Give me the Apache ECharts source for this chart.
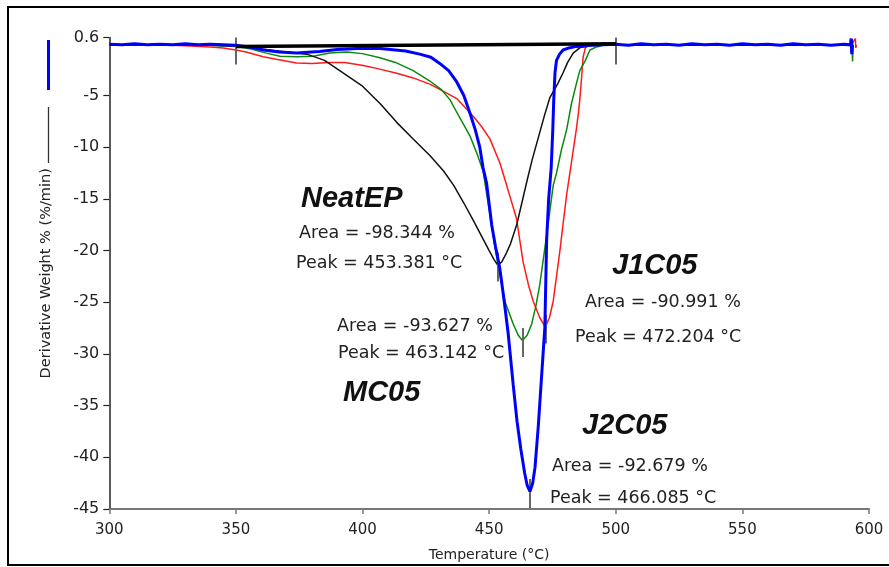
<!DOCTYPE html>
<html>
<head>
<meta charset="utf-8">
<title>DTG curves</title>
<script src="https://cdn.jsdelivr.net/npm/echarts@6.0.0/dist/echarts.min.js"></script>
<style>
  html, body { margin: 0; padding: 0; background: #fff; }
  #chart { width: 889px; height: 567px; }
</style>
</head>
<body>
<div id="chart"></div>
<script>
// Derivative weight (%/min) against temperature (°C) for four epoxy samples.
const sampleNames = ['NeatEP', 'MC05', 'J1C05', 'J2C05'];
const areaPct = [-98.344, -93.627, -90.991, -92.679];
const peakTemp = [453.381, 463.142, 472.204, 466.085];
const peakDepth = [-21.4, -28.7, -27.4, -43.3];
const limitTemps = [350, 500];

const xTickValues = [300, 350, 400, 450, 500, 550, 600];
const yTickValues = [-45, -40, -35, -30, -25, -20, -15, -10, -5, 0.6];

// [temperature, derivative weight]
const neatEP = [
  [300,-0.1],[305,-0.15],[310,-0.1],[315,-0.15],[320,-0.1],[325,-0.15],[330,-0.1],[335,-0.15],
  [340,-0.15],[345,-0.2],[350,-0.2],[355,-0.35],[360,-0.5],[365,-0.65],[370,-0.8],[378,-1.0],
  [385,-1.6],[391,-2.6],[400,-4.1],[407,-5.8],[413.5,-7.6],[420,-9.2],[426.6,-10.8],[432,-12.3],
  [436,-13.7],[440,-15.4],[444,-17.2],[447,-18.6],[450,-20.0],[452,-20.9],[453.381,-21.4],
  [455,-21.1],[456.5,-20.4],[458.5,-19.3],[461,-17.4],[463,-15.3],[465,-13.2],[467,-11.2],
  [469.5,-9.0],[472,-6.8],[474,-5.2],[477,-3.9],[479.2,-2.8],[481,-1.8],[483.2,-0.9],[486,-0.35],
  [490,-0.2],[495,-0.15],[500,-0.1],[510,-0.15],[520,-0.1],[530,-0.15],[540,-0.1],[550,-0.15],
  [560,-0.1],[570,-0.15],[580,-0.1],[590,-0.15],[592.5,-0.1],[592.7,0.5],[593.0,-0.8],[593.3,0.4],[593.6,-0.1]
];
const mc05 = [
  [300,-0.15],[310,-0.1],[320,-0.15],[330,-0.1],[340,-0.15],[350,-0.25],[356,-0.5],[362,-0.9],
  [367.4,-1.2],[374,-1.25],[380.5,-1.2],[387,-0.9],[393.7,-0.8],[400,-0.95],[406.9,-1.35],
  [413,-1.8],[420,-2.6],[426.6,-3.6],[431,-4.4],[434.5,-5.4],[438.5,-7.2],[442.4,-8.9],
  [445,-10.5],[447.6,-12.3],[450.3,-16.5],[452,-19.2],[453.6,-21.5],[456.2,-24.9],[459.5,-27.1],
  [461.5,-28.2],[463.142,-28.7],[465,-28.2],[466.8,-27.1],[468.5,-25.3],[470,-23.3],[472.7,-18.5],
  [475.3,-13.7],[476.6,-12.5],[478.5,-10.3],[480.6,-8.3],[482.5,-5.8],[484.5,-3.8],[485.8,-2.6],
  [488,-1.6],[489.8,-0.6],[492.4,-0.3],[495,-0.15],[500,-0.1],[510,-0.15],[520,-0.1],[530,-0.15],
  [540,-0.1],[550,-0.15],[560,-0.1],[570,-0.15],[580,-0.1],[590,-0.15],[593.3,-0.2],[593.5,-1.7],[593.7,-0.2]
];
const j1c05 = [
  [300,-0.1],[310,-0.15],[320,-0.1],[330,-0.2],[340,-0.3],[345,-0.4],[350,-0.6],[354,-0.8],
  [360.8,-1.25],[366,-1.5],[374,-1.85],[380,-1.9],[387,-1.8],[393,-1.8],[400.3,-2.1],[406,-2.4],
  [413.5,-2.85],[420,-3.3],[426.6,-3.9],[432,-4.6],[437.2,-5.3],[443.7,-7.0],[447,-8.0],
  [450.3,-9.2],[454.2,-11.5],[456.2,-13.1],[458.5,-15.0],[460.8,-16.9],[463.4,-21.1],[465.5,-23.3],
  [467.4,-24.9],[470,-26.5],[472.204,-27.4],[473.8,-26.5],[475.3,-24.9],[476.6,-22.5],[477.9,-20.1],
  [479.3,-17.2],[480.6,-14.6],[482,-12.3],[483.2,-10.3],[484.3,-8.5],[485.2,-6.8],[485.8,-5.4],
  [486.5,-3.3],[487.1,-1.3],[488,-0.4],[489,-0.15],[495,-0.1],[500,-0.15],[510,-0.1],[520,-0.15],
  [530,-0.1],[540,-0.15],[550,-0.1],[560,-0.15],[570,-0.1],[580,-0.15],[590,-0.1],[593,-0.1],
  [594.6,0.5],[594.8,-0.4],[595,-0.1]
];
const j2c05 = [
  [300,-0.05],[305,-0.1],[310,0],[315,-0.1],[320,-0.05],[325,-0.1],[330,0],[335,-0.1],[340,-0.05],
  [345,-0.1],[350,-0.15],[355,-0.3],[360.8,-0.6],[367,-0.8],[374,-0.9],[383,-0.75],[390,-0.55],
  [398,-0.45],[407,-0.45],[417,-0.7],[422.6,-1.0],[427,-1.3],[430.5,-1.9],[434,-2.6],[437,-3.6],
  [440,-5.0],[442.4,-6.7],[444.5,-8.3],[446.3,-10.0],[447.6,-12.0],[449,-13.5],[450,-15.5],
  [451,-17.5],[452.5,-19.6],[454.2,-21.7],[456,-25.0],[457.5,-28.0],[459.5,-33.0],[461,-36.5],
  [462.5,-39.2],[464,-41.5],[465,-42.7],[466.085,-43.3],[467.2,-42.5],[468.1,-41.0],[469.4,-37.0],
  [470.7,-32.2],[472,-27.4],[472.7,-19.0],[473.5,-15.0],[474.5,-12.0],[475.1,-8.5],[475.5,-5.5],
  [476,-2.8],[476.6,-1.6],[477.8,-1.0],[479.2,-0.6],[481.5,-0.4],[484.5,-0.25],[490,-0.15],
  [495,-0.1],[500,-0.05],[505,-0.15],[510,0],[515,-0.1],[520,-0.05],[525,-0.15],[530,0],[535,-0.1],
  [540,-0.05],[545,-0.15],[550,0],[555,-0.1],[560,-0.05],[565,-0.15],[570,0],[575,-0.1],[580,-0.05],
  [585,-0.15],[590,-0.05],[592.8,-0.1],[593.0,0.5],[593.2,-1.0],[593.5,-0.1]
];
// straight integration baseline under the curves
const baseline = [[350,-0.25],[500,0.0]];

const bodyFont = 'DejaVu Sans';
const titleFont = 'Liberation Sans';

// where each sample's annotation block sits (left edge, vertical centre)
const annotationLayout = [
  { title: [301, 199], area: [299, 233.5], peak: [296, 263] },
  { title: [343, 392.5], area: [337, 326.5], peak: [338, 353.5] },
  { title: [612, 266], area: [585, 302], peak: [575, 337] },
  { title: [582, 426], area: [552, 466.5], peak: [550, 498.5] }
];

const graphics = [];
sampleNames.forEach((name, i) => {
  const L = annotationLayout[i];
  graphics.push({
    type: 'text', x: L.title[0], y: L.title[1], z: 50,
    style: { text: name, font: 'italic bold 29px "' + titleFont + '"', fill: '#111', verticalAlign: 'middle' }
  });
  graphics.push({
    type: 'text', x: L.area[0], y: L.area[1], z: 50,
    style: { text: 'Area = ' + areaPct[i].toFixed(3) + ' %', font: '17.5px "' + bodyFont + '"', fill: '#222', verticalAlign: 'middle' }
  });
  graphics.push({
    type: 'text', x: L.peak[0], y: L.peak[1], z: 50,
    style: { text: 'Peak = ' + peakTemp[i].toFixed(3) + ' °C', font: '17.5px "' + bodyFont + '"', fill: '#222', verticalAlign: 'middle' }
  });
});
// line keys beside the y-axis title
graphics.push({ type: 'line', z: 50, shape: { x1: 48.5, y1: 107, x2: 48.5, y2: 163 }, style: { stroke: '#333', lineWidth: 1.3 } });
graphics.push({ type: 'line', z: 50, shape: { x1: 48.5, y1: 40, x2: 48.5, y2: 90 }, style: { stroke: '#0000ff', lineWidth: 3 } });
// frame around the figure
graphics.push({ type: 'rect', z: 100, shape: { x: 8, y: 7, width: 900, height: 558 }, style: { fill: null, stroke: '#000', lineWidth: 2 } });

// integration limits and peak ticks
const markerLines = [];
limitTemps.forEach(t => markerLines.push([{ coord: [t, 0.6] }, { coord: [t, -2.0] }]));
peakTemp.forEach((t, i) => markerLines.push([{ coord: [t, peakDepth[i] + 1.2] }, { coord: [t, Math.max(-45, peakDepth[i] - 1.6)] }]));

function curve(name, data, color, width, z) {
  return {
    name, type: 'line', data, showSymbol: false, symbol: 'none', z,
    lineStyle: { color, width }, itemStyle: { color }, silent: true
  };
}

const chart = echarts.init(document.getElementById('chart'), null, { renderer: 'canvas' });
chart.setOption({
  animation: false,
  backgroundColor: '#fff',
  grid: { left: 109.3, right: 20, top: 37.6, bottom: 54, containLabel: false },
  xAxis: {
    type: 'value', min: 300, max: 600, interval: 50,
    name: 'Temperature (°C)', nameLocation: 'middle', nameGap: 39,
    nameTextStyle: { fontFamily: bodyFont, fontSize: 14, color: '#222' },
    axisLine: { show: true, onZero: false, lineStyle: { color: '#777', width: 2 } },
    axisTick: { show: true, length: 5, lineStyle: { color: '#777', width: 1.5 } },
    axisLabel: { fontFamily: bodyFont, fontSize: 15, color: '#222', margin: 14,
      customValues: xTickValues },
    splitLine: { show: false }
  },
  yAxis: {
    type: 'value', min: -45, max: 0.6,
    name: 'Derivative Weight % (%/min)', nameLocation: 'middle', nameRotate: 90, nameGap: 56,
    nameTextStyle: { fontFamily: bodyFont, fontSize: 14.5, color: '#222' },
    axisLine: { show: true, onZero: false, lineStyle: { color: '#222', width: 1.5 } },
    axisTick: { show: true, length: 6, customValues: yTickValues, lineStyle: { color: '#222', width: 1.2 } },
    axisLabel: { fontFamily: bodyFont, fontSize: 16, color: '#222', margin: 10,
      customValues: yTickValues, formatter: v => String(v) },
    splitLine: { show: false }
  },
  series: [
    curve('J1C05', j1c05, '#ff1a1a', 1.5, 2),
    curve('MC05', mc05, '#0a8a0a', 1.5, 3),
    curve('NeatEP', neatEP, '#111', 1.5, 4),
    curve('J2C05', j2c05, '#0000ff', 3, 5),
    curve('baseline', baseline, '#000', 3.5, 6),
    {
      name: 'markers', type: 'line', data: [], z: 7, silent: true,
      markLine: {
        silent: true, symbol: ['none', 'none'], animation: false,
        label: { show: false },
        lineStyle: { color: '#666', width: 2, type: 'solid' },
        data: markerLines
      }
    }
  ],
  graphic: graphics
});
</script>
</body>
</html>
